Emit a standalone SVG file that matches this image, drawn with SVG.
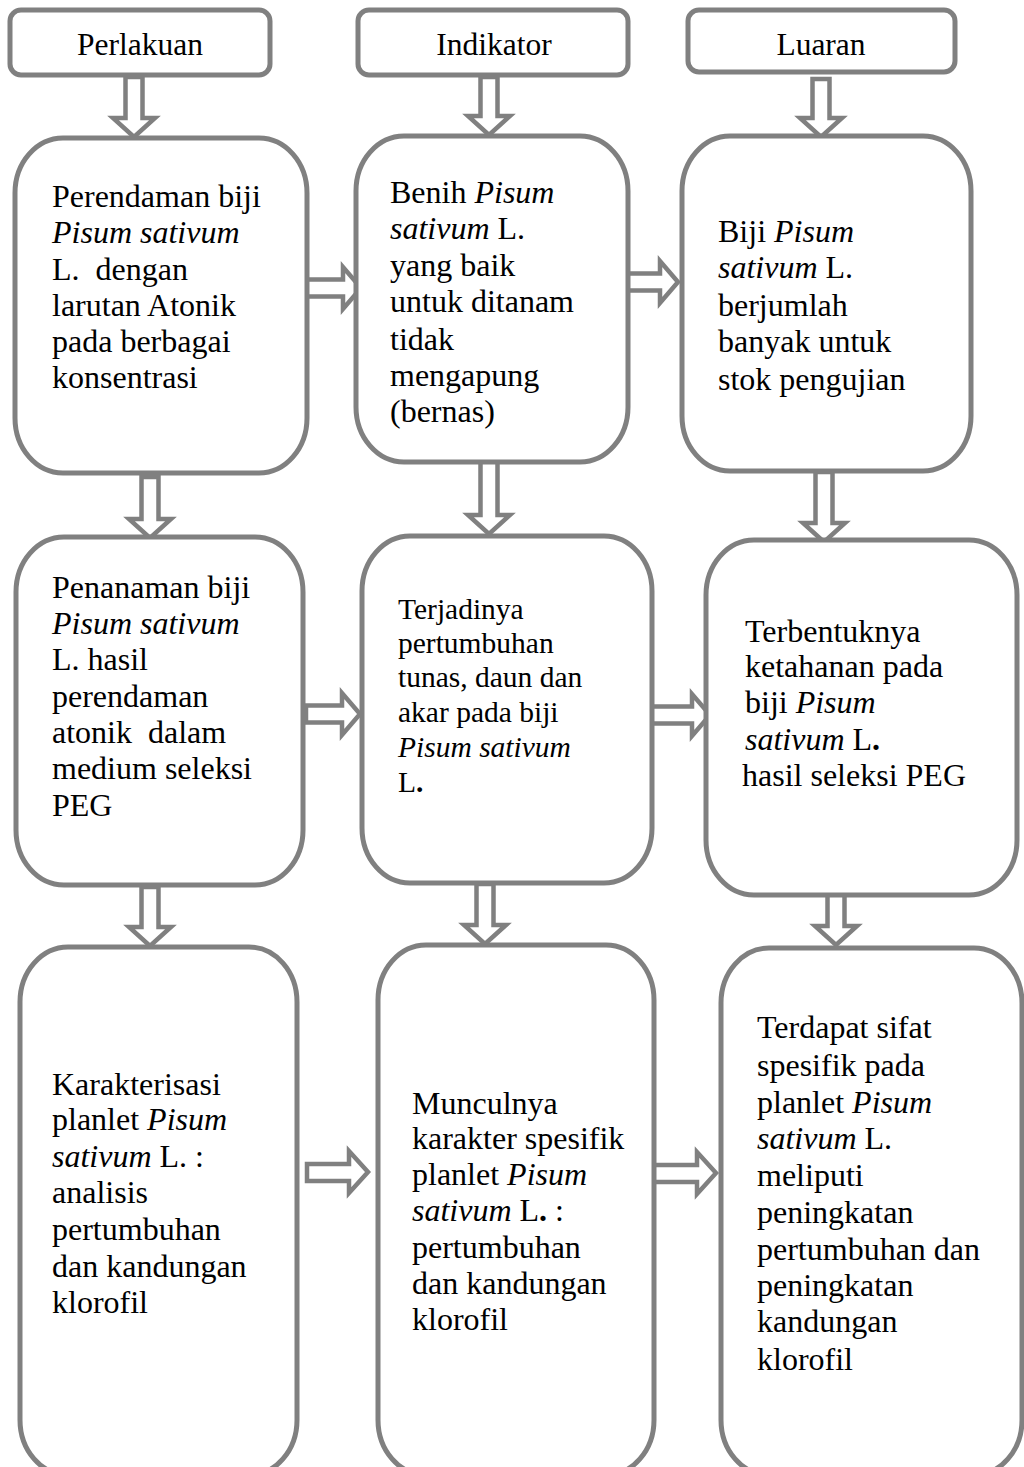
<svg xmlns="http://www.w3.org/2000/svg" width="1024" height="1467" viewBox="0 0 1024 1467">
<style>
.box{fill:#fff;stroke:#808080;stroke-width:5}
.arr{fill:#fff;stroke:#808080;stroke-width:4.5;stroke-linejoin:miter}
text{font-family:"Liberation Serif","Times New Roman",serif;font-size:32px;fill:#000}
.h{text-anchor:middle;font-size:31.5px}
.s{font-size:29.5px}
.i{font-style:italic}
.b{font-weight:bold}
</style>
<rect width="1024" height="1467" fill="#fff"/>
<g id="header-perlakuan"><rect class="box" x="10" y="10" width="260" height="65" rx="11"/><text class="h" x="140" y="55">Perlakuan</text></g>
<g id="header-indikator"><rect class="box" x="358" y="10" width="270" height="65" rx="11"/><text class="h" x="494" y="55">Indikator</text></g>
<g id="header-luaran"><rect class="box" x="688" y="10" width="267" height="62" rx="11"/><text class="h" x="821" y="55">Luaran</text></g>

<g id="connectors">
<path class="arr" d="M125.5 77H142.5V118H155L134 137L113 118H125.5Z"/>
<path class="arr" d="M480.5 77H497.5V116H510L489 135L468 116H480.5Z"/>
<path class="arr" d="M812.5 79H829.5V118H842L821 137L800 118H812.5Z"/>
<path class="arr" d="M141.5 477H158.5V519H171L150 538L129 519H141.5Z"/>
<path class="arr" d="M480.5 455H497.5V515H510L489 534L468 515H480.5Z"/>
<path class="arr" d="M815.5 472H832.5V523H845L824 542L803 523H815.5Z"/>
<path class="arr" d="M141.5 887H158.5V927H171L150 946L129 927H141.5Z"/>
<path class="arr" d="M476.5 884H493.5V925H506L485 944L464 925H476.5Z"/>
<path class="arr" d="M827.5 889H844.5V926H857L836 945L815 926H827.5Z"/>
<path class="arr" d="M304 279.5V296.5H343V309L361 288L343 267V279.5Z"/>
<path class="arr" d="M622 273.5V290.5H660V303L678 282L660 261V273.5Z"/>
<path class="arr" d="M306 705.5V722.5H342V735L360 714L342 693V705.5Z"/>
<path class="arr" d="M650 706.5V723.5H692V736L710 715L692 694V706.5Z"/>
<path class="arr" d="M307 1164V1181H349V1193L368 1172L349 1151V1164Z"/>
<path class="arr" d="M652 1165V1182H697V1194L716 1173L697 1152V1165Z"/>
</g>

<g id="node-a1"><rect class="box" x="15" y="138" width="292" height="335" rx="48" ry="55"/>
<text x="52" y="207">Perendaman biji</text>
<text x="52" y="243" class="i">Pisum sativum</text>
<text x="52" y="280" xml:space="preserve">L.  dengan</text>
<text x="52" y="316">larutan Atonik</text>
<text x="52" y="352">pada berbagai</text>
<text x="52" y="388">konsentrasi</text></g>

<g id="node-b1"><rect class="box" x="356" y="136" width="272" height="326" rx="48" ry="55"/>
<text x="390" y="203">Benih <tspan class="i">Pisum</tspan></text>
<text x="390" y="239"><tspan class="i">sativum</tspan> L.</text>
<text x="390" y="276">yang baik</text>
<text x="390" y="312">untuk ditanam</text>
<text x="390" y="350">tidak</text>
<text x="390" y="386">mengapung</text>
<text x="390" y="422">(bernas)</text></g>

<g id="node-c1"><rect class="box" x="682" y="136" width="289" height="335" rx="48" ry="55"/>
<text x="718" y="242">Biji <tspan class="i">Pisum</tspan></text>
<text x="718" y="278"><tspan class="i">sativum</tspan> L.</text>
<text x="718" y="316">berjumlah</text>
<text x="718" y="352">banyak untuk</text>
<text x="718" y="390">stok pengujian</text></g>

<g id="node-a2"><rect class="box" x="16" y="537" width="287" height="348" rx="48" ry="55"/>
<text x="52" y="598">Penanaman biji</text>
<text x="52" y="634" class="i">Pisum sativum</text>
<text x="52" y="670">L. hasil</text>
<text x="52" y="707">perendaman</text>
<text x="52" y="743" xml:space="preserve">atonik  dalam</text>
<text x="52" y="779">medium seleksi</text>
<text x="52" y="816">PEG</text></g>

<g id="node-b2"><rect class="box" x="362" y="536" width="290" height="347" rx="48" ry="55"/>
<text class="s" x="398" y="619">Terjadinya</text>
<text class="s" x="398" y="653">pertumbuhan</text>
<text class="s" x="398" y="687">tunas, daun dan</text>
<text class="s" x="398" y="722">akar pada biji</text>
<text class="s i" x="398" y="757">Pisum sativum</text>
<text class="s" x="398" y="792">L<tspan class="b">.</tspan></text></g>

<g id="node-c2"><rect class="box" x="706" y="540" width="311" height="355" rx="48" ry="55"/>
<text x="745" y="642">Terbentuknya</text>
<text x="745" y="677">ketahanan pada</text>
<text x="745" y="713">biji <tspan class="i">Pisum</tspan></text>
<text x="745" y="750"><tspan class="i">sativum</tspan> L<tspan class="b">.</tspan></text>
<text x="742" y="786">hasil seleksi PEG</text></g>

<g id="node-a3"><rect class="box" x="20" y="947" width="277" height="528" rx="48" ry="55"/>
<text x="52" y="1095">Karakterisasi</text>
<text x="52" y="1130">planlet <tspan class="i">Pisum</tspan></text>
<text x="52" y="1167"><tspan class="i">sativum</tspan> L. :</text>
<text x="52" y="1203">analisis</text>
<text x="52" y="1240">pertumbuhan</text>
<text x="52" y="1277">dan kandungan</text>
<text x="52" y="1313">klorofil</text></g>

<g id="node-b3"><rect class="box" x="378" y="945" width="276" height="530" rx="48" ry="55"/>
<text x="412" y="1114">Munculnya</text>
<text x="412" y="1149">karakter spesifik</text>
<text x="412" y="1185">planlet <tspan class="i">Pisum</tspan></text>
<text x="412" y="1221"><tspan class="i">sativum</tspan> L<tspan class="b">.</tspan> :</text>
<text x="412" y="1258">pertumbuhan</text>
<text x="412" y="1294">dan kandungan</text>
<text x="412" y="1330">klorofil</text></g>

<g id="node-c3"><rect class="box" x="721" y="948" width="301" height="527" rx="48" ry="55"/>
<text x="757" y="1038">Terdapat sifat</text>
<text x="757" y="1076">spesifik pada</text>
<text x="757" y="1113">planlet <tspan class="i">Pisum</tspan></text>
<text x="757" y="1149"><tspan class="i">sativum</tspan> L.</text>
<text x="757" y="1186">meliputi</text>
<text x="757" y="1223">peningkatan</text>
<text x="757" y="1260">pertumbuhan dan</text>
<text x="757" y="1296">peningkatan</text>
<text x="757" y="1332">kandungan</text>
<text x="757" y="1370">klorofil</text></g>
</svg>
